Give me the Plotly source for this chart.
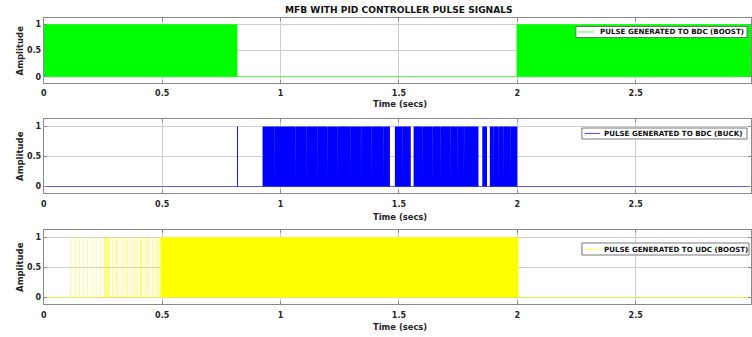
import plotly.graph_objects as go

# ---------------- data ----------------
TITLE = "MFB WITH PID CONTROLLER PULSE SIGNALS"
X_LABEL = "Time (secs)"
Y_LABEL = "Amplitude"
T_START, T_END = 0.0, 3.0

x_ticks = [0, 0.5, 1, 1.5, 2, 2.5, 3]
x_tick_text = ["0", "0.5", "1", "1.5", "2", "2.5", "3"]
y_ticks = [0, 0.5, 1]
y_tick_text = ["0", "0.5", "1"]

names = ["PULSE GENERATED TO BDC (BOOST)",
         "PULSE GENERATED TO BDC (BUCK)",
         "PULSE GENERATED TO UDC (BOOST)"]
colors = ["#00ff00", "#0000ff", "#ffff00"]

# intervals (start, end) in seconds where the switching signal is high / dense
boost_bdc_on = [(0.0, 0.818), (1.997, 3.0)]
buck_bdc_on = [(0.8165, 0.8205),
               (0.924, 0.9727), (0.9733, 1.0637), (1.0643, 1.1107),
               (1.1113, 1.1577), (1.1583, 1.1967), (1.1973, 1.2417),
               (1.2423, 1.2937), (1.2943, 1.3397), (1.3403, 1.3847),
               (1.3853, 1.4337), (1.4343, 1.462),
               (1.483, 1.5147), (1.5153, 1.550),
               (1.562, 1.5987), (1.5993, 1.6407), (1.6413, 1.6757),
               (1.6763, 1.7177), (1.7183, 1.7487), (1.7493, 1.7747),
               (1.7753, 1.836),
               (1.852, 1.872),
               (1.884, 1.8997), (1.9003, 1.9207), (1.9213, 1.9417),
               (1.9423, 1.9707), (1.9713, 2.000)]
udc_spikes = [0.112, 0.133, 0.150, 0.167, 0.185, 0.203, 0.220, 0.238,
              0.256, 0.260, 0.264, 0.268, 0.272, 0.276,
              0.290, 0.301, 0.311, 0.321, 0.332, 0.342, 0.353, 0.363, 0.374,
              0.385, 0.395, 0.406, 0.410, 0.414,
              0.427, 0.437, 0.447, 0.458, 0.469, 0.479, 0.485]
udc_on = [(0.493, 2.005)]
SPIKE_W = 0.002

y_ranges = [[-0.114, 1.114], [-0.112, 1.126], [-0.112, 1.122]]
y_domains = [[0.7546, 0.9457], [0.4264, 0.6469], [0.0979, 0.3175]]
X_DOMAIN = [0.0545, 1.0]
X_RANGE = [0.0, 2.987]

# legend boxes in pixels: (left, top, right, bottom, sample_l, sample_r, text_l)
legend_px = [(576, 26.5, 748, 37.5, 578, 594, 598),
             (582, 128, 748, 139, 585, 600, 602.5),
             (582, 243, 750, 255, 585, 599, 602.5)]


def step_polygon(intervals):
    xs, ys = [T_START], [0]
    for s, e in sorted(intervals):
        xs += [s, s, e, e]
        ys += [0, 1, 1, 0]
    xs.append(T_END)
    ys.append(0)
    return xs, ys


signals = [boost_bdc_on, buck_bdc_on,
           [(s, s + SPIKE_W) for s in udc_spikes] + udc_on]

FONT = "DejaVu Sans, Verdana, sans-serif"
GRID = "#cfcfcf"
AXIS = "#8a8a8a"
TXT = "#262626"

W, H = 752, 337


def px(x):
    return x / W


def py(y):
    return 1 - y / H


fig = go.Figure()
for i, (intervals, name, col) in enumerate(zip(signals, names, colors)):
    xa = "x" if i == 0 else f"x{i+1}"
    ya = "y" if i == 0 else f"y{i+1}"
    fig.add_trace(go.Scatter(x=[T_START, T_END], y=[0, 0], mode="lines",
                             line=dict(color=col, width=0.8), name=name,
                             opacity=0.75,
                             xaxis=xa, yaxis=ya, showlegend=False,
                             hoverinfo="skip"))
    xs, ys = step_polygon(intervals)
    fig.add_trace(go.Scatter(x=xs, y=ys, mode="lines", fill="tozeroy",
                             fillcolor=col, line=dict(color=col, width=0),
                             xaxis=xa, yaxis=ya, showlegend=False, name=name,
                             hoverinfo="skip"))

layout = dict(width=W, height=H, margin=dict(l=0, r=0, t=0, b=0),
              paper_bgcolor="white", plot_bgcolor="white",
              font=dict(family=FONT, color=TXT), showlegend=False)

for i in range(3):
    sfx = "" if i == 0 else str(i + 1)
    layout["xaxis" + sfx] = dict(
        domain=X_DOMAIN, range=X_RANGE, anchor="y" + sfx,
        tickvals=x_ticks, ticktext=x_tick_text,
        showgrid=True, gridcolor=GRID, gridwidth=1, zeroline=False,
        showline=True, linecolor=AXIS, linewidth=1, mirror="ticks",
        ticks="inside", ticklen=3, tickcolor=AXIS,
        ticklabelstandoff=3,
        tickfont=dict(size=8, family=FONT, color=TXT, weight="bold"))
    layout["yaxis" + sfx] = dict(
        domain=y_domains[i], range=y_ranges[i], anchor="x" + sfx,
        tickvals=y_ticks, ticktext=y_tick_text,
        showgrid=True, gridcolor=GRID, gridwidth=1, zeroline=False,
        showline=True, linecolor=AXIS, linewidth=1, mirror="ticks",
        ticks="inside", ticklen=3, tickcolor=AXIS,
        tickfont=dict(size=8, family=FONT, color=TXT, weight="bold"))

fig.update_layout(**layout)

# legend boxes (drawn as shapes + text so their compact size matches)
shapes = []
annotations = []
for (l, t, r, b, sl, sr, tl), name, col in zip(legend_px, names, colors):
    shapes.append(dict(type="rect", xref="paper", yref="paper",
                       x0=px(l), x1=px(r), y0=py(b), y1=py(t),
                       fillcolor="white", line=dict(color="#555", width=0.8),
                       layer="above"))
    ym = py((t + b) / 2)
    shapes.append(dict(type="line", xref="paper", yref="paper",
                       x0=px(sl), x1=px(sr), y0=ym, y1=ym, opacity=0.7,
                       line=dict(color=col, width=1), layer="above"))
    annotations.append(dict(text=name, x=px(tl), y=ym, xref="paper",
                            yref="paper", showarrow=False, xanchor="left",
                            yanchor="middle",
                            font=dict(size=7.1, family=FONT, color="#111",
                                      weight="bold")))

annotations.append(dict(text=TITLE, x=px(398), y=py(10), xref="paper",
                        yref="paper", showarrow=False, xanchor="center",
                        yanchor="middle",
                        font=dict(size=9.1, family=FONT, color="#111",
                                  weight="bold")))
for yc in [104, 217, 327]:
    annotations.append(dict(text=X_LABEL, x=px(399), y=py(yc),
                            xref="paper", yref="paper", showarrow=False,
                            xanchor="center", yanchor="middle",
                            font=dict(size=8.4, family=FONT, color=TXT,
                                      weight="bold")))
for yc in [50.5, 156, 267]:
    annotations.append(dict(text=Y_LABEL, x=px(17), y=py(yc),
                            xref="paper", yref="paper", showarrow=False,
                            textangle=-90, xanchor="center", yanchor="middle",
                            font=dict(size=8.5, family=FONT, color=TXT,
                                      weight="bold")))
fig.update_layout(shapes=shapes, annotations=annotations)

fig.write_html("out.html")
